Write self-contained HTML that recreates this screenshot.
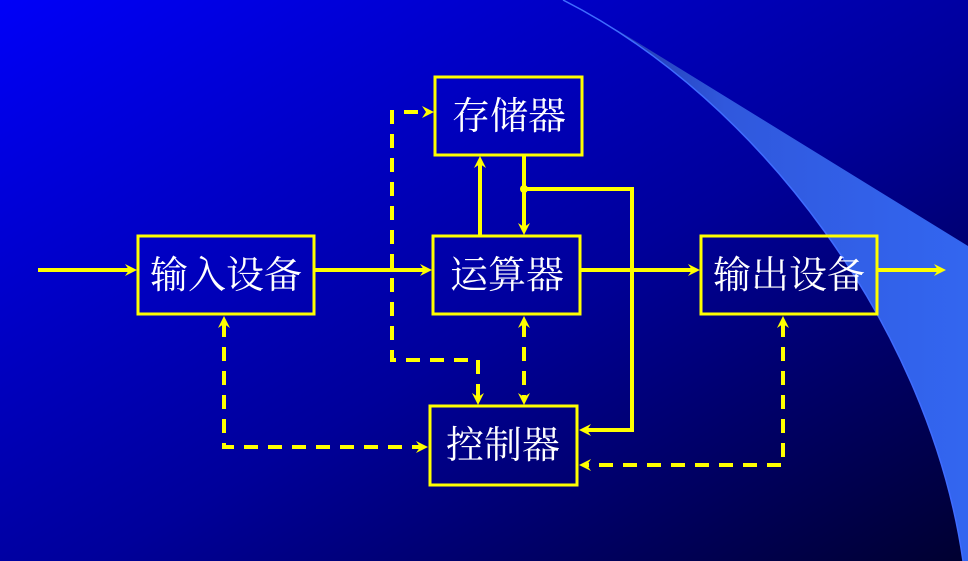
<!DOCTYPE html>
<html><head><meta charset="utf-8"><style>
html,body{margin:0;padding:0;width:968px;height:561px;overflow:hidden}
</style></head><body>
<svg width="968" height="561" viewBox="0 0 968 561" xmlns="http://www.w3.org/2000/svg">
<defs>
<linearGradient id="bg" x1="0" y1="0" x2="1" y2="1">
<stop offset="0" stop-color="#0000f8"/>
<stop offset="0.55" stop-color="#00009a"/>
<stop offset="1" stop-color="#000030"/>
</linearGradient>
<linearGradient id="sw" x1="0" y1="0" x2="1" y2="0">
<stop offset="0" stop-color="#1a2a9a"/>
<stop offset="0.4" stop-color="#3058dd"/>
<stop offset="1" stop-color="#3366f0"/>
</linearGradient>
</defs>
<rect width="968" height="561" fill="url(#bg)"/>
<path d="M563,0 C760,100 930,330 963,561 L968,561 L968,246 L627,36 Q590,14 563,0 Z" fill="url(#sw)"/>
<path d="M563,0 C760,100 930,330 963,561" fill="none" stroke="#3f6cff" stroke-width="1.5"/>
<g fill="none" stroke="#ffff00" stroke-width="3">
<rect x="435" y="77" width="147" height="78"/>
<rect x="433" y="236" width="147" height="78"/>
<rect x="138" y="236" width="176" height="78"/>
<rect x="701" y="236" width="176" height="78"/>
<rect x="430" y="406" width="147" height="79"/>
</g>
<g stroke="#ffff00" stroke-width="4" fill="none">
<line x1="38" y1="270" x2="130" y2="270"/>
<line x1="314" y1="270" x2="425" y2="270"/>
<line x1="580" y1="270" x2="693" y2="270"/>
<line x1="877" y1="270" x2="938" y2="270"/>
<line x1="480" y1="236" x2="480" y2="163"/>
<line x1="524" y1="155" x2="524" y2="228"/>
<polyline points="524,189 632,189 632,430 586,430"/>
</g>
<circle cx="524" cy="189" r="4" fill="#ffff00"/>
<g stroke="#ffff00" stroke-width="4" fill="none" stroke-dasharray="14,10">
<polyline points="478,398 478,360 392,360 392,112 427,112"/>
<line x1="524" y1="323" x2="524" y2="398"/>
<polyline points="224,323 224,447 421,447"/>
<polyline points="783,323 783,465 586,465"/>
</g>
<g fill="#ffff00">
<path d="M137,270 l-12,-6 l4,6 l-4,6 Z"/>
<path d="M432,270 l-12,-6 l4,6 l-4,6 Z"/>
<path d="M700,270 l-12,-6 l4,6 l-4,6 Z"/>
<path d="M946,270 l-12,-6 l4,6 l-4,6 Z"/>
<path d="M434,112 l-12,-6 l4,6 l-4,6 Z"/>
<path d="M428,447 l-12,-6 l4,6 l-4,6 Z"/>
<path d="M579,430 l12,-6 l-4,6 l4,6 Z"/>
<path d="M579,465 l12,-6 l-4,6 l4,6 Z"/>
<path d="M480,156 l-6,12 l6,-4 l6,4 Z"/>
<path d="M524,316 l-6,12 l6,-4 l6,4 Z"/>
<path d="M224,316 l-6,12 l6,-4 l6,4 Z"/>
<path d="M783,316 l-6,12 l6,-4 l6,4 Z"/>
<path d="M524,235 l-6,-12 l6,4 l6,-4 Z"/>
<path d="M524,405 l-6,-12 l6,4 l6,-4 Z"/>
<path d="M478,405 l-6,-12 l6,4 l6,-4 Z"/>
</g>
<g fill="#ffffff" font-family="'Noto Serif CJK SC','Liberation Serif',serif" font-size="38" text-anchor="middle">
<text x="509" y="129">存储器</text>
<text x="507" y="288">运算器</text>
<text x="226" y="288">输入设备</text>
<text x="789" y="288">输出设备</text>
<text x="503" y="458">控制器</text>
</g>
</svg>
</body></html>
